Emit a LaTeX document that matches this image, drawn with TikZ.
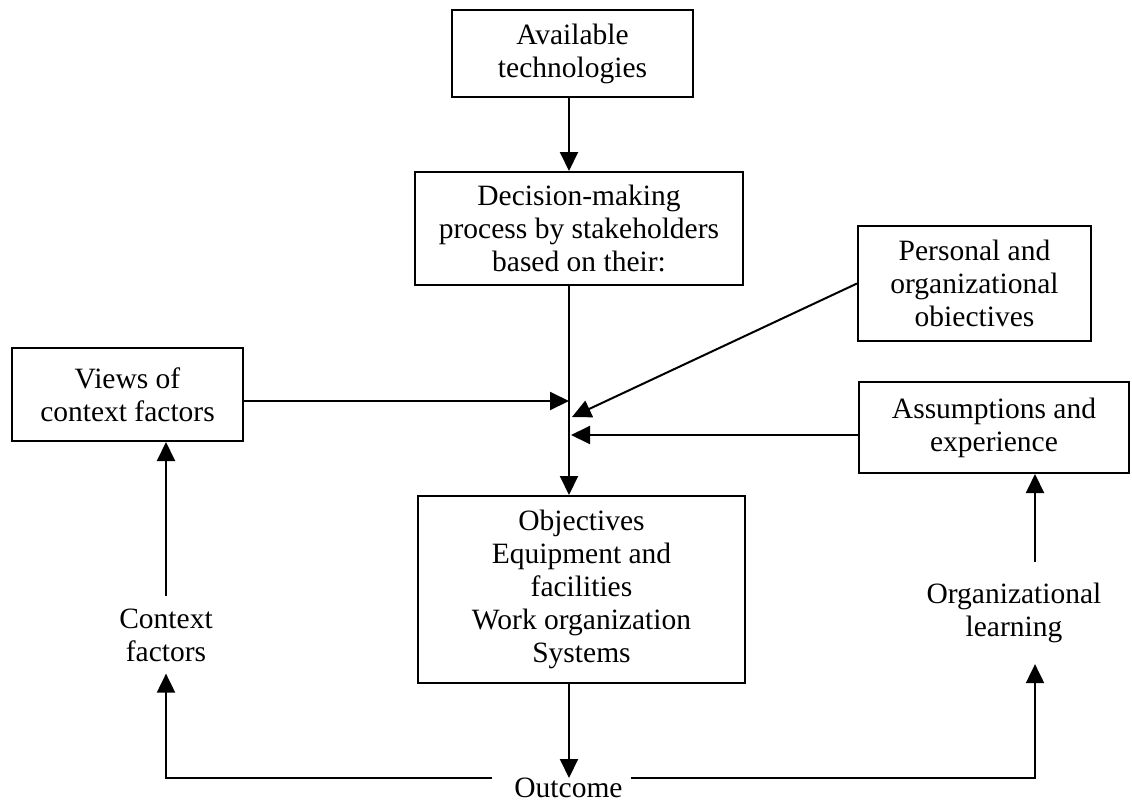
\documentclass[tikz,border=0pt]{standalone}
\usepackage{fontspec}
\setmainfont{Liberation Serif}
\usetikzlibrary{arrows.meta}
\begin{document}
\begin{tikzpicture}[x=1pt,y=-1pt,
  txt/.style={font=\fontsize{29.5}{33}\selectfont, align=center},
  box/.style={txt, draw, line width=2pt, inner sep=0pt},
  lbl/.style={txt, inner sep=0pt},
  conn/.style={line width=2pt},
  arr/.style={conn, -{Triangle[length=19pt,width=18pt]}}]
\fill[white] (0,0) rectangle (1132,806);
\useasboundingbox (0,0) rectangle (1132,806);

% boxes
\node[box, minimum width=241pt, minimum height=87pt]  (avail)    at (572.5,53.5)  {Available\\technologies};
\node[box, minimum width=328pt, minimum height=113pt] (decide)   at (579,228.5)   {Decision-making\\process by stakeholders\\based on their:};
\node[box, minimum width=233pt, minimum height=115pt] (personal) at (974.5,283.5) {Personal and\\organizational\\obiectives};
\node[box, minimum width=231pt, minimum height=93pt]  (views)    at (127.5,394.5) {Views of\\context factors};
\node[box, minimum width=270pt, minimum height=91pt]  (assump)   at (994,427.5)   {Assumptions and\\experience};
\node[box, minimum width=327pt, minimum height=187pt] (obj)      at (581.5,589.5) {Objectives\\Equipment and\\facilities\\Work organization\\Systems};

% free labels
\node[lbl, inner ysep=12pt] (ctx) at (166,635) {Context\\factors};
\node[lbl, inner ysep=21pt] (org) at (1014,613) {Organizational\\learning};
\node[lbl, anchor=north] (outcome) at (568.5,778) {Outcome};

% reference lines for the connectors
\coordinate (spine) at (569,0);
\coordinate (rx) at (1035,0);
\coordinate (jv) at (569,401);
\coordinate (jp) at (572,417);
\coordinate (ja) at (571,435);

% main vertical flow
\draw[arr] (avail.south -| spine) -- (decide.north -| spine);
\draw[arr] (decide.south -| spine) -- (obj.north -| spine);
\draw[arr] (obj.south -| spine) -- (outcome.north -| spine);

% influences joining the flow
\draw[arr] (views.east |- jv) -- (jv);
\draw[arr] (personal.west) -- (jp);
\draw[arr] (assump.west |- ja) -- (ja);

% feedback loops from the outcome
\draw[arr] ([xshift=-22pt]outcome.north west) -| (ctx.south);
\draw[arr] (ctx.north) -- (views.south -| ctx);
\draw[arr] ([xshift=8pt]outcome.north east) -| (org.south -| rx);
\draw[arr] (org.north -| rx) -- (assump.south -| rx);
\end{tikzpicture}
\end{document}
